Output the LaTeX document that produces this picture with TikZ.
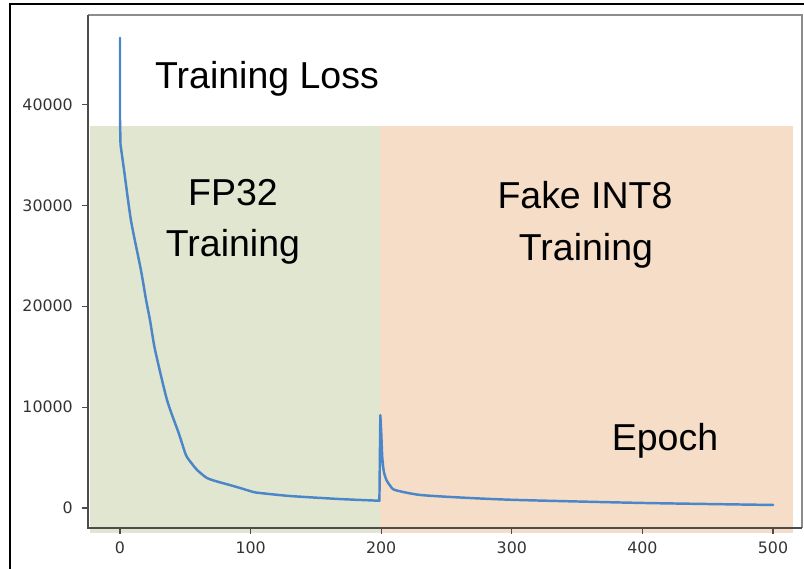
\documentclass[tikz,border=0pt]{standalone}
\usepackage{fontspec}
\setmainfont{Liberation Sans}
\newfontfamily\tickfont{DejaVu Sans}

\definecolor{fpgreen}{HTML}{E1E6D1}
\definecolor{intpeach}{HTML}{F6DDC7}
\definecolor{lossblue}{HTML}{4A86C8}

\tikzset{
  bigtext/.style={anchor=base, inner sep=0pt, font=\fontsize{32}{38}\selectfont},
  ticklabel/.style={inner sep=0pt, text=black!80, font=\tickfont\fontsize{13.5}{16}\selectfont},
  spine/.style={black!70, line width=1pt},
  lossline/.style={lossblue, line width=2.1pt, line join=round, line cap=round},
}

\begin{document}
\begin{tikzpicture}[x=0.03cm, y=-0.03cm]
    % page in pixel units, y grows downwards
    \useasboundingbox (0,0) rectangle (804,569);

    % black frame round the figure (top and left edges only show)
    \draw[line width=1.3pt] (10,569) |- (804,4);

    % the two training phases
    \fill[fpgreen] (90,126) rectangle (380,533);
    \fill[intpeach] (380,126) rectangle (793,533);

    % axes box
    \draw[black!45, line width=1pt] (88,15) -- (802,15) -- (802,528);
    \draw[spine] (88,15) |- (802,528);

    % y ticks, 10000 per 100.9 px
    \foreach \k/\lab in {0/0, 10/10000, 20/20000, 30/30000, 40/40000} {
        \pgfmathsetmacro\py{508-10.09*\k}
        \draw[spine] (82,\py) -- (88,\py);
        \node[ticklabel, anchor=east] (ylab\k) at (73,\py) {\lab};
    }

    % x ticks, 100 epochs per 130.6 px
    \foreach \e in {0,100,...,500} {
        \pgfmathsetmacro\px{120+1.306*\e}
        \draw[spine] (\px,528) -- (\px,534);
        \node[ticklabel, anchor=base] (xlab\e) at (\px,553) {\e};
    }

    % loss curve in data units: epoch along x, loss/1000 along y
    \begin{scope}[shift={(120,508)}, x=0.03918cm, y=0.3027cm]
        \draw[lossline] (0,46.6) -- (0,38.5)
            -- plot[smooth, tension=0.4] coordinates {
                (0.4,36) (3.1,33.5) (8.4,28.5)
                (16,23.6) (20,20.6) (23,18.6) (26.8,15.7) (36,10.7)
                (45,7.4) (50.5,5.25) (55,4.4) (59,3.77) (66.6,2.97)
                (75,2.6) (84,2.28) (92,1.98) (102,1.59) (107,1.49)
                (130,1.19) (168,0.89) (198.6,0.72)}
            -- (199.3,9.2)
            -- plot[smooth, tension=0.4] coordinates {
                (200,7.5) (200.8,5.0) (202,3.6) (204,2.77) (207,2.18)
                (210.6,1.78) (230,1.29) (268,0.99) (306,0.79)
                (400,0.5) (500,0.3)};
    \end{scope}

    % labels
    \node[bigtext] (title) at (267,89) {Training Loss};
    \node[bigtext] (fpA) at (233,206) {FP32};
    \node[bigtext] (fpB) at (233,257) {Training};
    \node[bigtext] (intA) at (585,209) {Fake INT8};
    \node[bigtext] (intB) at (586,261) {Training};
    \node[bigtext] (epoch) at (665,450) {Epoch};
\end{tikzpicture}
\end{document}
